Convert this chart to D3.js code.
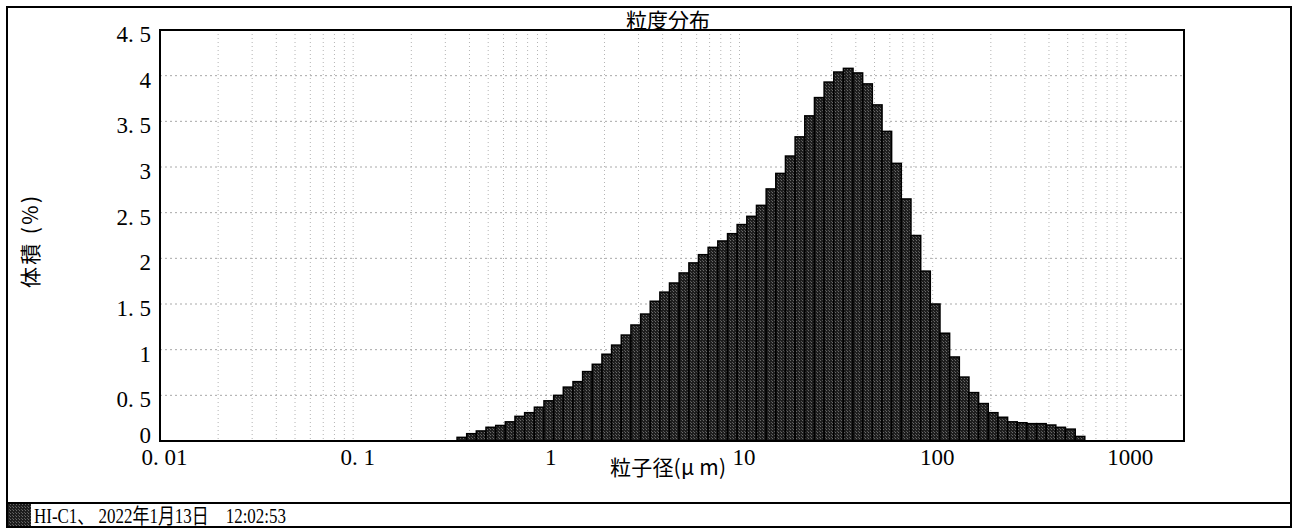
<!DOCTYPE html>
<html>
<head>
<meta charset="utf-8">
<script src="https://cdn.jsdelivr.net/npm/d3@7"></script>
<style>
  html, body { margin: 0; padding: 0; background: #fff; }
  svg { display: block; }
</style>
</head>
<body>
<svg id="chart" width="1294" height="528"></svg>
<script>
// ---- data ----
const chartTitle = "粒度分布";
const xAxisLabel = "粒子径(μ m)";
const yAxisLabel = "体積 (%)";
const footerText = "HI-C1、 2022年1月13日　12:02:53";

// bin edges (µm), 20 bins per decade
const binEdges = [0.345, 0.387, 0.434, 0.487, 0.547, 0.613, 0.688, 0.772, 0.867, 0.972,
  1.091, 1.224, 1.374, 1.541, 1.729, 1.940, 2.177, 2.443, 2.741, 3.076,
  3.45, 3.87, 4.34, 4.87, 5.47, 6.13, 6.88, 7.72, 8.67, 9.72,
  10.91, 12.24, 13.74, 15.41, 17.29, 19.40, 21.77, 24.43, 27.41, 30.76,
  34.5, 38.7, 43.4, 48.7, 54.7, 61.3, 68.8, 77.2, 86.7, 97.2,
  109.1, 122.4, 137.4, 154.1, 172.9, 194.0, 217.7, 244.3, 274.1, 307.6,
  345, 387, 434, 487, 547, 613];

// volume (%) per bin
const volume = [0.04, 0.08, 0.11, 0.15, 0.17, 0.21, 0.27, 0.31, 0.37, 0.44,
  0.50, 0.59, 0.65, 0.76, 0.84, 0.95, 1.05, 1.16, 1.27, 1.39,
  1.53, 1.63, 1.73, 1.84, 1.95, 2.04, 2.12, 2.19, 2.27, 2.37,
  2.46, 2.58, 2.76, 2.93, 3.12, 3.33, 3.56, 3.76, 3.93, 4.04,
  4.08, 4.03, 3.91, 3.68, 3.39, 3.04, 2.65, 2.25, 1.86, 1.50,
  1.18, 0.92, 0.70, 0.53, 0.41, 0.31, 0.26, 0.21, 0.20, 0.19,
  0.19, 0.175, 0.15, 0.13, 0.05];

const xTickValues = [0.01, 0.1, 1, 10, 100, 1000];
const xTickLabels = ["0. 01", "0. 1", "1", "10", "100", "1000"];
const yTickValues = [0, 0.5, 1, 1.5, 2, 2.5, 3, 3.5, 4, 4.5];
const yTickLabels = ["0", "0. 5", "1", "1. 5", "2", "2. 5", "3", "3. 5", "4", "4. 5"];

// ---- layout ----
const W = 1294, H = 528;
const plot = { left: 160, right: 1184, top: 30, bottom: 441 };
const serif = "'Liberation Serif', 'DejaVu Serif', serif";
const jp = "'Noto Sans CJK JP', 'Noto Sans', sans-serif";

const svg = d3.select("#chart");

const defs = svg.append("defs");
const pat = defs.append("pattern").attr("id", "dither")
  .attr("patternUnits", "userSpaceOnUse").attr("width", 3).attr("height", 3);
pat.append("rect").attr("width", 3).attr("height", 3).attr("fill", "#1e1e1e");
pat.append("rect").attr("x", 1).attr("y", 0).attr("width", 1).attr("height", 1).attr("fill", "#6a6a6a");
pat.append("rect").attr("x", 0).attr("y", 2).attr("width", 1).attr("height", 1).attr("fill", "#555");

defs.append("clipPath").attr("id", "plotClip").append("rect")
  .attr("x", plot.left).attr("y", plot.top)
  .attr("width", plot.right - plot.left).attr("height", plot.bottom - plot.top);

// scales
const x = d3.scaleLog().domain([0.01, 2000]).range([plot.left, plot.right]);
const y = d3.scaleLinear().domain([0, 4.5]).range([plot.bottom, plot.top]);

// outer frame
svg.append("rect").attr("x", 7).attr("y", 7).attr("width", 1284).attr("height", 520)
  .attr("fill", "#fff").attr("stroke", "#000").attr("stroke-width", 2);
svg.append("line").attr("x1", 7).attr("x2", 1291).attr("y1", 503).attr("y2", 503)
  .attr("stroke", "#000").attr("stroke-width", 2);

// grid
const gridG = svg.append("g").attr("clip-path", "url(#plotClip)");
const vTicks = x.ticks().filter(v => v > 0.01 && v < 2000);
gridG.selectAll("line.vg").data(vTicks).join("line").attr("class", "vg")
  .attr("x1", d => x(d)).attr("x2", d => x(d))
  .attr("y1", plot.top).attr("y2", plot.bottom)
  .attr("stroke", "#b4b4b4").attr("stroke-width", 1).attr("stroke-dasharray", "1,3");
gridG.selectAll("line.hg").data(yTickValues.filter(v => v > 0 && v < 4.5)).join("line").attr("class", "hg")
  .attr("x1", plot.left).attr("x2", plot.right)
  .attr("y1", d => y(d)).attr("y2", d => y(d))
  .attr("stroke", "#a8a8a8").attr("stroke-width", 1).attr("stroke-dasharray", "2,3");

// bars
const bins = volume.map((v, i) => ({ x0: binEdges[i], x1: binEdges[i + 1], v }));
svg.append("g").attr("clip-path", "url(#plotClip)")
  .selectAll("rect").data(bins).join("rect")
  .attr("x", d => x(d.x0)).attr("width", d => x(d.x1) - x(d.x0))
  .attr("y", d => y(d.v)).attr("height", d => y(0) - y(d.v))
  .attr("fill", "url(#dither)").attr("stroke", "#000").attr("stroke-width", 1.5);

// plot border
svg.append("rect").attr("x", plot.left).attr("y", plot.top)
  .attr("width", plot.right - plot.left).attr("height", plot.bottom - plot.top)
  .attr("fill", "none").attr("stroke", "#000").attr("stroke-width", 2);

// x axis
const xAxis = d3.axisBottom(x).tickValues(xTickValues).tickSize(0).tickPadding(0)
  .tickFormat((d, i) => xTickLabels[i]);
const gx = svg.append("g").attr("transform", `translate(4,${plot.bottom})`).call(xAxis);
gx.select(".domain").remove();
gx.selectAll("text").attr("y", 24).attr("dy", null)
  .attr("font-family", serif).attr("font-size", 23).attr("fill", "#000");

// y axis
const yAxis = d3.axisLeft(y).tickValues(yTickValues).tickSize(0).tickPadding(0)
  .tickFormat((d, i) => yTickLabels[i]);
const gy = svg.append("g").attr("transform", `translate(151,0)`).call(yAxis);
gy.select(".domain").remove();
gy.selectAll(".tick").attr("transform", d => `translate(0,${Math.min(y(d) + 12, plot.bottom + 2)})`);
gy.selectAll("text").attr("x", 0).attr("dy", null).attr("y", 0)
  .attr("font-family", serif).attr("font-size", 23).attr("fill", "#000");

// title
svg.append("text").attr("x", 668).attr("y", 28).attr("text-anchor", "middle")
  .attr("font-family", jp).attr("font-size", 21).attr("fill", "#000").text(chartTitle);

// axis titles
svg.append("text").attr("x", 668).attr("y", 475).attr("text-anchor", "middle")
  .attr("font-family", jp).attr("font-size", 21).attr("fill", "#000")
  .attr("textLength", 116).attr("lengthAdjust", "spacing").text(xAxisLabel);
svg.append("text").attr("transform", "translate(38,242) rotate(-90)").attr("text-anchor", "middle")
  .attr("font-family", jp).attr("font-size", 21).attr("fill", "#000")
  .attr("textLength", 92).attr("lengthAdjust", "spacing").text(yAxisLabel);

// footer
svg.append("rect").attr("x", 8).attr("y", 504).attr("width", 23).attr("height", 22)
  .attr("fill", "url(#dither)");
svg.append("text").attr("x", 34).attr("y", 523)
  .attr("font-family", serif + ", " + jp).attr("font-size", 21).attr("fill", "#000")
  .attr("textLength", 252).attr("lengthAdjust", "spacingAndGlyphs").text(footerText);
</script>
</body>
</html>
